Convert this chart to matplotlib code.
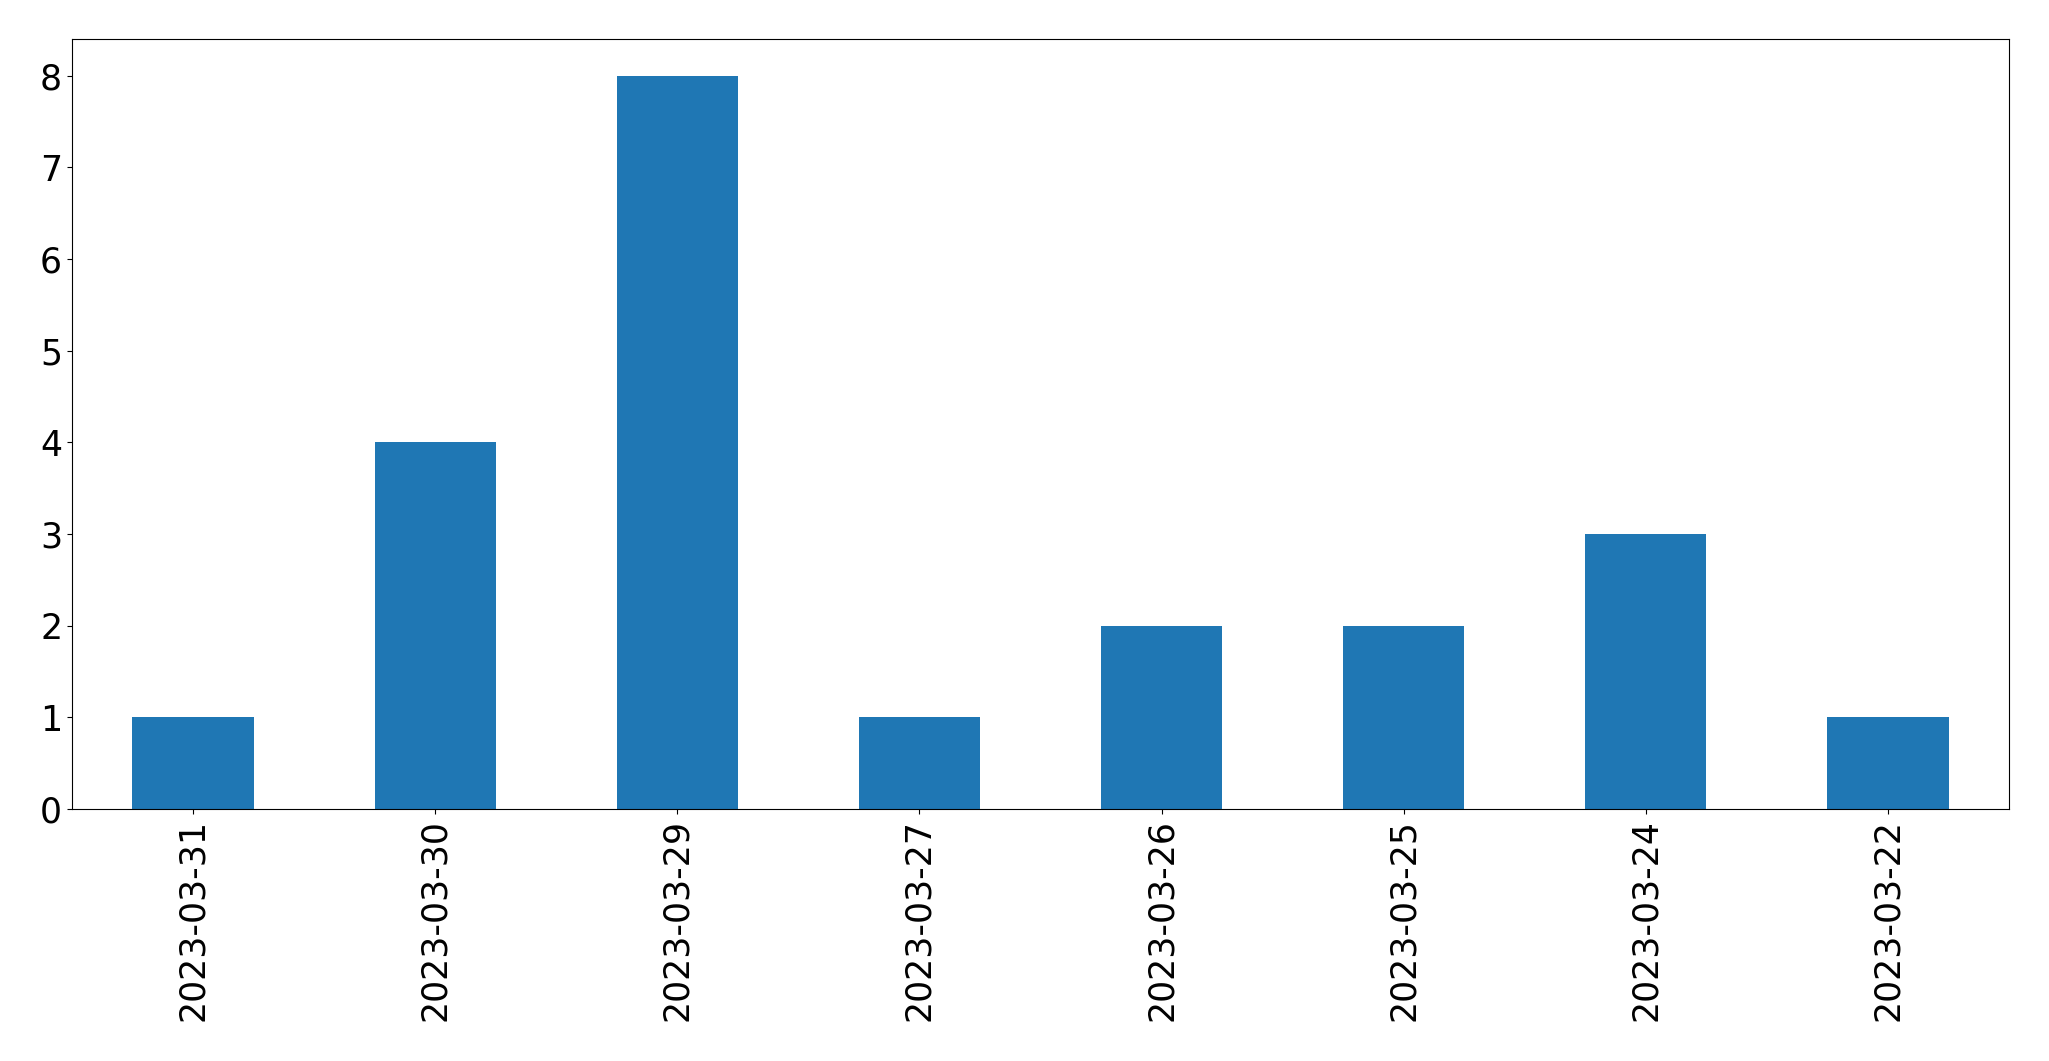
import matplotlib
matplotlib.use("Agg")
import matplotlib.pyplot as plt

dates = ["2023-03-31", "2023-03-30", "2023-03-29", "2023-03-27",
         "2023-03-26", "2023-03-25", "2023-03-24", "2023-03-22"]
counts = [1, 4, 8, 1, 2, 2, 3, 1]

fig, ax = plt.subplots(figsize=(20.49, 10.61), dpi=100)
fig.subplots_adjust(left=0.0351, right=0.9805, top=0.9632, bottom=0.2375)

x = range(len(dates))
ax.bar(x, counts, width=0.5, color="#1f77b4")
ax.set_xlim(-0.5, len(dates) - 0.5)
ax.set_xticks(list(x))
ax.set_xticklabels(dates, rotation=90)
ax.tick_params(labelsize=25)

fig.savefig("out.png", dpi=100)
